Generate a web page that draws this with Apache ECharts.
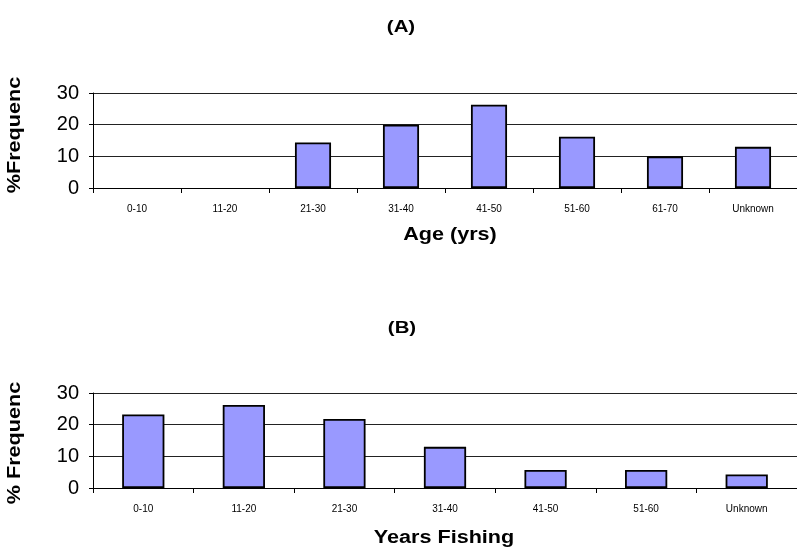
<!DOCTYPE html>
<html><head><meta charset="utf-8">
<script src="https://cdn.jsdelivr.net/npm/echarts@6/dist/echarts.min.js"></script>
<style>html,body{margin:0;padding:0;background:#fff}#c{width:797px;height:552px}</style>
</head><body><div id="c"></div>
<script>
const ageCategories = ['0-10','11-20','21-30','31-40','41-50','51-60','61-70','Unknown'];
const ageValues = [0, 0, 14.4, 20, 26.3, 16.2, 10, 13];
const fishCategories = ['0-10','11-20','21-30','31-40','41-50','51-60','Unknown'];
const fishValues = [23.2, 26.2, 21.8, 13, 5.7, 5.7, 4.3];
const yTicks = [0, 10, 20, 30];

const FONT = 'Liberation Sans, Arial, sans-serif';
const chart = echarts.init(document.getElementById('c'));

function xAxis(idx, cats) {
  return {
    type: 'category', gridIndex: idx, data: cats,
    axisLine: {lineStyle: {color: '#000', width: 1}},
    axisTick: {show: true, length: 5, lineStyle: {color: '#000'}},
    axisLabel: {fontFamily: FONT, fontSize: 10, color: '#000', margin: 16, interval: 0},
    splitLine: {show: false}
  };
}
function yAxis(idx) {
  return {
    type: 'value', gridIndex: idx, min: yTicks[0], max: yTicks[yTicks.length-1], interval: 10,
    axisLine: {show: true, lineStyle: {color: '#000', width: 1}},
    axisTick: {show: true, length: 4, lineStyle: {color: '#000'}},
    axisLabel: {fontFamily: FONT, fontSize: 20, color: '#000', margin: 14},
    splitLine: {show: true, lineStyle: {color: '#222', width: 1}}
  };
}
const barStyle = {color: '#9999FF', borderColor: '#000', borderWidth: 1.8};
function barData(vals) {
  return vals.map(v => v === 0 ? {value: v, itemStyle: {borderWidth: 0}} : v);
}
function label(text, x, y, size, sx, rot, width) {
  const style = {text: text, font: 'bold ' + size + 'px ' + FONT, fill: '#000', align: 'center', verticalAlign: 'middle'};
  if (width) { style.width = width; style.overflow = 'truncate'; style.ellipsis = ''; }
  return {type: 'text', x: x, y: y, scaleX: sx, rotation: rot || 0, style: style};
}

chart.setOption({
  animation: false,
  grid: [
    {left: 93, right: 0, top: 93, height: 95},
    {left: 93, right: 0, top: 393, height: 95}
  ],
  xAxis: [xAxis(0, ageCategories), xAxis(1, fishCategories)],
  yAxis: [yAxis(0), yAxis(1)],
  series: [
    {type: 'bar', xAxisIndex: 0, yAxisIndex: 0, data: barData(ageValues), barWidth: '41%', itemStyle: barStyle},
    {type: 'bar', xAxisIndex: 1, yAxisIndex: 1, data: barData(fishValues), barWidth: '42%', itemStyle: barStyle}
  ],
  graphic: [
    label('(A)', 401, 27, 17, 1.2),
    label('(B)', 402, 328, 17, 1.2),
    label('Age (yrs)', 450, 235, 18, 1.2),
    label('Years Fishing', 444, 538, 18, 1.2),
    label('%Frequency', 15, 135, 18, 1.2, Math.PI / 2, 106),
    label('% Frequency', 15, 443, 18, 1.2, Math.PI / 2, 110)
  ]
});
</script></body></html>
